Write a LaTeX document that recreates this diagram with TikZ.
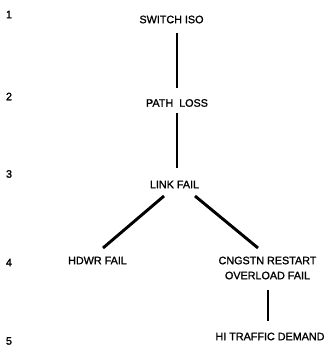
\documentclass[tikz,border=0pt]{standalone}
\usepackage{fontspec}
\setmainfont{Liberation Sans}[BoldFont={Liberation Sans}, BoldFeatures={FakeBold=1.3}]
\usetikzlibrary{calc}

\tikzset{
  lbl/.style={font=\fontsize{9.2}{12.8}\selectfont\bfseries, inner sep=0pt, align=center},
  link/.style={line width=2.5pt}
}

\begin{document}
\begin{tikzpicture}[x=0.03cm, y=-0.03cm]
        \useasboundingbox (0, 0) rectangle (332, 346);

        % Level numbers
        \node (n1) [lbl] at (9, 14.5) {1};
        \node (n2) [lbl] at (9, 96.5) {2};
        \node (n3) [lbl] at (9, 174) {3};
        \node (n4) [lbl] at (9, 262.5) {4};
        \node (n5) [lbl] at (9, 341) {5};

        % Nodes
        \node (sw) [lbl] at (171.5, 19.5) {SWITCH ISO};
        \node (pl) [lbl] at (177, 103) {PATH\ \ LOSS};
        \node (lf) [lbl] at (174.5, 184.5) {LINK FAIL};
        \node (hw) [lbl] at (97.5, 260.5) {HDWR FAIL};
        \node (cr) [lbl] at (267.5, 268) {CNGSTN RESTART\\OVERLOAD FAIL};
        \node (ht) [lbl] at (270, 336.5) {HI TRAFFIC DEMAND};

        % Edges
        \draw[link] ($(sw)+(5.5, 13.5)$) -- ($(pl)+(0, -15)$);
        \draw[link] ($(pl)+(0, 10)$) -- ($(lf)+(2.5, -16.5)$);
        \draw[link] ($(lf)+(-10.5, 11.5)$) -- ($(hw)+(5.5, -12.5)$);
        \draw[link] ($(lf)+(20.5, 11.5)$) -- ($(cr)+(-9.5, -20)$);
        \draw[link] ($(cr)+(0.5, 22)$) -- ($(ht)+(-2, -15.5)$);
    \end{tikzpicture}
\end{document}
